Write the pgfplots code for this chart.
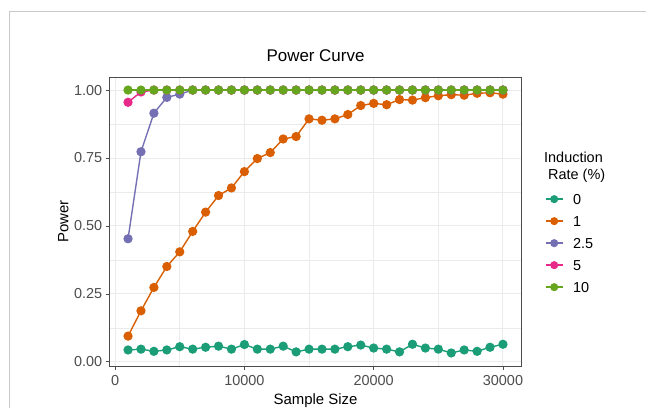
\documentclass[border=0pt]{standalone}
\usepackage{pgfplots}
\pgfplotsset{compat=1.18}
\usepackage{pgfplotstable}
\usetikzlibrary{calc}
\usepackage{fontspec}
\setmainfont{Liberation Sans}
\definecolor{c0}{HTML}{1B9E77}
\definecolor{c1}{HTML}{D95F02}
\definecolor{c2}{HTML}{7570B3}
\definecolor{c3}{HTML}{E7298A}
\definecolor{c4}{HTML}{66A61E}
\definecolor{gridc}{HTML}{EBEBEB}
\definecolor{tickc}{HTML}{4D4D4D}
\definecolor{framec}{HTML}{C8C8C8}

\pgfplotstableread{
x y
1000 0.044
2000 0.047
3000 0.039
4000 0.044
5000 0.056
6000 0.047
7000 0.054
8000 0.058
9000 0.047
10000 0.064
11000 0.047
12000 0.047
13000 0.058
14000 0.037
15000 0.047
16000 0.047
17000 0.047
18000 0.056
19000 0.062
20000 0.051
21000 0.047
22000 0.037
23000 0.065
24000 0.051
25000 0.047
26000 0.033
27000 0.044
28000 0.039
29000 0.054
30000 0.065
}\rateA

\pgfplotstableread{
x y
1000 0.095
2000 0.188
3000 0.274
4000 0.351
5000 0.405
6000 0.480
7000 0.551
8000 0.612
9000 0.640
10000 0.700
11000 0.748
12000 0.770
13000 0.820
14000 0.829
15000 0.894
16000 0.889
17000 0.894
18000 0.910
19000 0.943
20000 0.951
21000 0.946
22000 0.965
23000 0.963
24000 0.972
25000 0.979
26000 0.983
27000 0.981
28000 0.988
29000 0.990
30000 0.985
}\rateB

\pgfplotstableread{
x y
1000 0.453
2000 0.773
3000 0.915
4000 0.973
5000 0.985
6000 1.000
7000 1.000
8000 1.000
9000 1.000
10000 1.000
11000 1.000
12000 1.000
13000 1.000
14000 1.000
15000 1.000
16000 1.000
17000 1.000
18000 1.000
19000 1.000
20000 1.000
21000 1.000
22000 1.000
23000 1.000
24000 1.000
25000 1.000
26000 1.000
27000 1.000
28000 1.000
29000 1.000
30000 1.000
}\rateC

\pgfplotstableread{
x y
1000 0.955
2000 0.993
3000 1.000
4000 1.000
5000 1.000
6000 1.000
7000 1.000
8000 1.000
9000 1.000
10000 1.000
11000 1.000
12000 1.000
13000 1.000
14000 1.000
15000 1.000
16000 1.000
17000 1.000
18000 1.000
19000 1.000
20000 1.000
21000 1.000
22000 1.000
23000 1.000
24000 1.000
25000 1.000
26000 1.000
27000 1.000
28000 1.000
29000 1.000
30000 1.000
}\rateD

\pgfplotstableread{
x y
1000 1.000
2000 1.000
3000 1.000
4000 1.000
5000 1.000
6000 1.000
7000 1.000
8000 1.000
9000 1.000
10000 1.000
11000 1.000
12000 1.000
13000 1.000
14000 1.000
15000 1.000
16000 1.000
17000 1.000
18000 1.000
19000 1.000
20000 1.000
21000 1.000
22000 1.000
23000 1.000
24000 1.000
25000 1.000
26000 1.000
27000 1.000
28000 1.000
29000 1.000
30000 1.000
}\rateE

\begin{document}
\begin{tikzpicture}[x=1bp,y=1bp]
\begin{axis}[
  name=ax,
  width=412.4bp, height=289bp, scale only axis,
  clip mode=individual,
  xmin=-450, xmax=31450, ymin=-0.015, ymax=1.048,
  xtick={0,10000,20000,30000},
  ytick={0,0.25,0.5,0.75,1},
  minor xtick={5000,15000,25000},
  minor ytick={0.125,0.375,0.625,0.875},
  grid=both,
  major grid style={gridc, line width=1bp},
  minor grid style={gridc, line width=0.55bp},
  axis line style={black!70, line width=0.9bp},
  tick align=outside, xtick pos=bottom, ytick pos=left,
  major tick length=3.6bp, minor tick length=0pt,
  tick style={black!70, line width=0.9bp},
  scaled x ticks=false,
  /pgf/number format/assume math mode=true,
  xticklabel style={/pgf/number format/1000 sep={}, yshift=-2bp},
  yticklabel style={/pgf/number format/fixed, /pgf/number format/fixed zerofill, /pgf/number format/precision=2},
  ticklabel style={font=\fontsize{14.5}{17}\selectfont, text=tickc},
  title={Power Curve},
  title style={font=\fontsize{17}{20}\selectfont, at={(axis description cs:0.5,1.0329)}, anchor=base},
  xlabel={Sample Size},
  xlabel style={font=\fontsize{15}{18}\selectfont, at={(axis description cs:0.5,-0.1332)}, anchor=base},
  ylabel={Power},
  ylabel style={font=\fontsize{15}{18}\selectfont, at={(axis description cs:-0.0994,0.5)}, anchor=base},
  legend style={at={(axis description cs:1.0565,0.5955)}, anchor=north west,
    draw=none, fill=none, inner sep=0pt, outer sep=0pt,
    font=\fontsize{14.5}{17}\selectfont,
    row sep=11.5bp, column sep=9.7bp,
    nodes={inner sep=0pt, text height=10.5bp, text depth=0bp}},
  legend cell align=left,
  legend image code/.code={\draw[mark repeat=2,mark phase=2, mark size=3.3bp] plot coordinates {(0bp,0bp)(8.5bp,0bp)(17bp,0bp)};},
  every axis plot/.append style={line width=1.4bp, mark=*, mark size=3.9bp, mark options={solid}},
]
\coordinate (O) at (rel axis cs:0,0);
\addplot[c0] table[x=x,y=y]{\rateA};
\addplot[c1] table[x=x,y=y]{\rateB};
\addplot[c2] table[x=x,y=y]{\rateC};
\addplot[c3] table[x=x,y=y]{\rateD};
\addplot[c4] table[x=x,y=y]{\rateE};
\legend{0,1,2.5,5,10}
\node[anchor=north west, align=left, inner sep=0pt, font=\fontsize{14.5}{17}\selectfont] at (axis description cs:1.054,0.742) {Induction\\\hspace{0.28em}Rate (\%)};
\end{axis}
\pgfresetboundingbox
\path[use as bounding box] ($(O)+(-109.3,-42)$) rectangle ++(646,408);
\draw[color=framec, line width=1bp] ($(O)+(-99.8,-42)$) -- ++(0,396.7) -- ++(636.5,0);
\end{tikzpicture}
\end{document}
